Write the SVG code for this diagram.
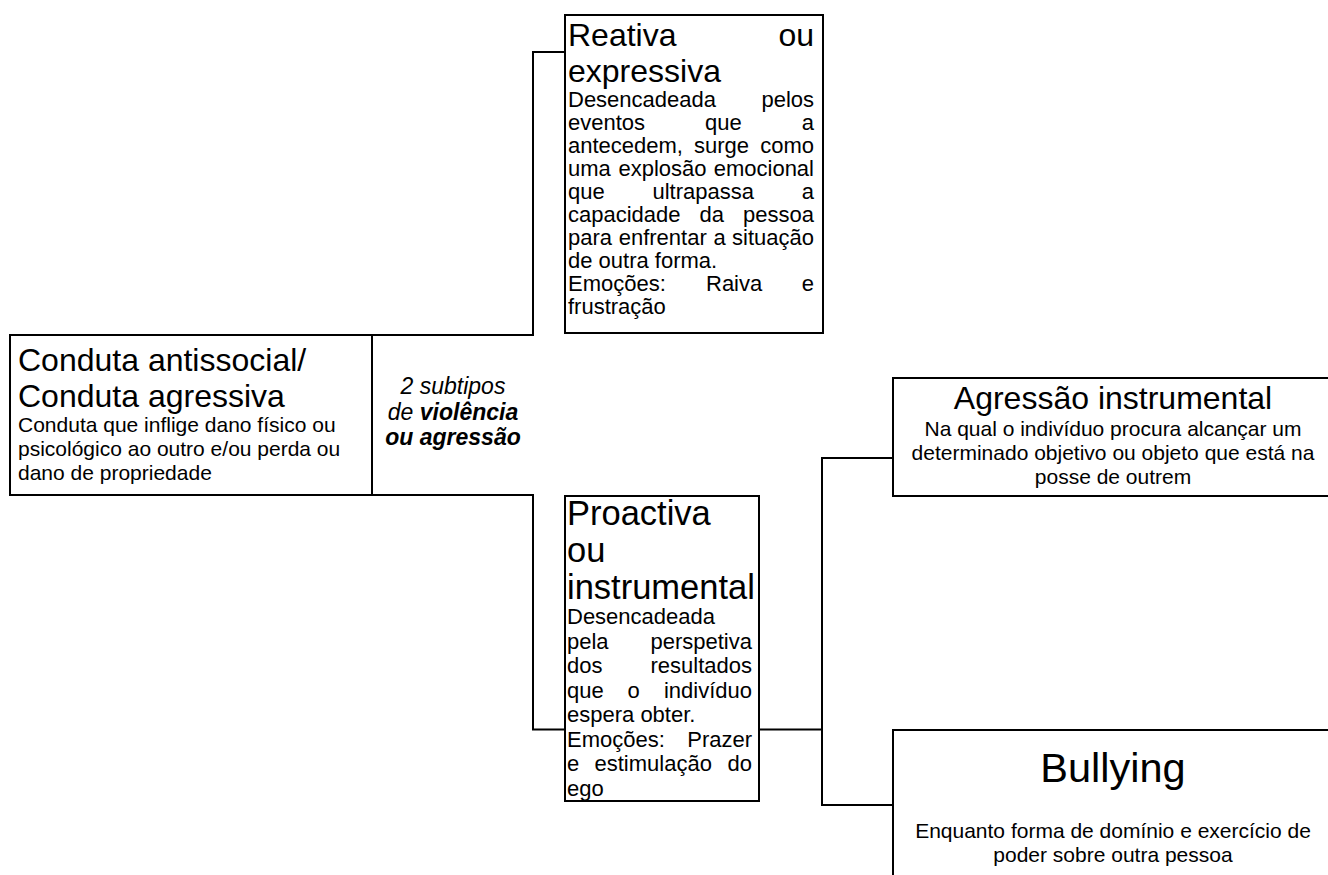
<svg xmlns="http://www.w3.org/2000/svg" width="1328" height="875" viewBox="0 0 1328 875">
  <style>
    .box { fill: #ffffff; stroke: #000000; stroke-width: 2; }
    .conn { fill: none; stroke: #000000; stroke-width: 2; }
    text { font-family: "Liberation Sans", Arial, sans-serif; fill: #000000; }
    .t32 { font-size: 32px; }
    .t34 { font-size: 34.5px; }
    .b22 { font-size: 22px; }
    .b21 { font-size: 21px; }
    .mid { font-size: 23px; font-style: italic; }
    .end { text-anchor: end; }
    .ctr { text-anchor: middle; }
  </style>
  <rect width="1328" height="875" fill="#ffffff"/>

  <!-- connectors -->
  <g id="connectors">
    <path class="conn" d="M565,52 H533 V335 H372"/>
    <path class="conn" d="M372,495 H533 V729.5 H565"/>
    <path class="conn" d="M759,729.5 H822"/>
    <path class="conn" d="M893,458 H822 V805 H893"/>
  </g>

  <!-- root node -->
  <g id="node-conduta">
    <rect class="box" x="10" y="335" width="362" height="160"/>
    <text class="t32" x="18" y="371">Conduta antissocial/</text>
    <text class="t32" x="18" y="407">Conduta agressiva</text>
    <text class="b21" x="18" y="432">Conduta que inflige dano físico ou</text>
    <text class="b21" x="18" y="456">psicológico ao outro e/ou perda ou</text>
    <text class="b21" x="18" y="480">dano de propriedade</text>
  </g>

  <g id="label-subtipos">
    <text class="mid ctr" x="453" y="394">2 subtipos</text>
    <text class="mid ctr" x="453" y="420">de <tspan font-weight="bold">violência</tspan></text>
    <text class="mid ctr" x="453" y="445" font-weight="bold">ou agressão</text>
  </g>

  <g id="node-reativa">
    <rect class="box" x="565" y="15" width="258" height="318"/>
    <text class="t32" x="568" y="46">Reativa</text>
    <text class="t32 end" x="814" y="46">ou</text>
    <text class="t32" x="568" y="82">expressiva</text>
    <g class="b22">
      <text x="568" y="107">Desencadeada</text>
      <text class="end" x="814" y="107">pelos</text>
      <text x="568" y="130">eventos</text>
      <text x="705" y="130">que</text>
      <text class="end" x="814" y="130">a</text>
      <text x="568" y="153">antecedem,</text>
      <text x="694" y="153">surge</text>
      <text class="end" x="814" y="153">como</text>
      <text x="568" y="176">uma</text>
      <text x="618.5" y="176">explosão</text>
      <text class="end" x="814" y="176">emocional</text>
      <text x="568" y="199">que</text>
      <text x="652.5" y="199">ultrapassa</text>
      <text class="end" x="814" y="199">a</text>
      <text x="568" y="222">capacidade</text>
      <text x="699.5" y="222">da</text>
      <text class="end" x="814" y="222">pessoa</text>
      <text x="568" y="245">para</text>
      <text x="618.7" y="245">enfrentar</text>
      <text x="713.5" y="245">a</text>
      <text class="end" x="814" y="245">situação</text>
      <text x="568" y="268">de outra forma.</text>
      <text x="568" y="291">Emoções:</text>
      <text x="706" y="291">Raiva</text>
      <text class="end" x="814" y="291">e</text>
      <text x="568" y="314">frustração</text>
    </g>
  </g>

  <g id="node-proactiva">
    <rect class="box" x="565" y="496" width="194" height="305"/>
    <text class="t34" x="567" y="525">Proactiva</text>
    <text class="t34" x="567" y="562">ou</text>
    <text class="t34" x="567" y="599">instrumental</text>
    <g class="b22">
      <text x="567" y="624">Desencadeada</text>
      <text x="567" y="648.5">pela</text>
      <text class="end" x="752" y="648.5">perspetiva</text>
      <text x="567" y="673">dos</text>
      <text class="end" x="752" y="673">resultados</text>
      <text x="567" y="697.5">que</text>
      <text x="627.5" y="697.5">o</text>
      <text class="end" x="752" y="697.5">indivíduo</text>
      <text x="567" y="722">espera obter.</text>
      <text x="567" y="746.5">Emoções:</text>
      <text class="end" x="752" y="746.5">Prazer</text>
      <text x="567" y="771">e</text>
      <text x="594.5" y="771">estimulação</text>
      <text class="end" x="752" y="771">do</text>
      <text x="567" y="795.5">ego</text>
    </g>
  </g>

  <g id="node-agressao">
    <rect class="box" x="893" y="378" width="445" height="118"/>
    <text class="t32 ctr" x="1113" y="409">Agressão instrumental</text>
    <text class="b21 ctr" x="1113" y="436">Na qual o indivíduo procura alcançar um</text>
    <text class="b21 ctr" x="1113" y="460">determinado objetivo ou objeto que está na</text>
    <text class="b21 ctr" x="1113" y="484">posse de outrem</text>
  </g>

  <g id="node-bullying">
    <rect class="box" x="893" y="730" width="445" height="160"/>
    <text class="ctr" x="1113" y="782" font-size="41.5">Bullying</text>
    <text class="b21 ctr" x="1113" y="838">Enquanto forma de domínio e exercício de</text>
    <text class="b21 ctr" x="1113" y="862">poder sobre outra pessoa</text>
  </g>
</svg>
